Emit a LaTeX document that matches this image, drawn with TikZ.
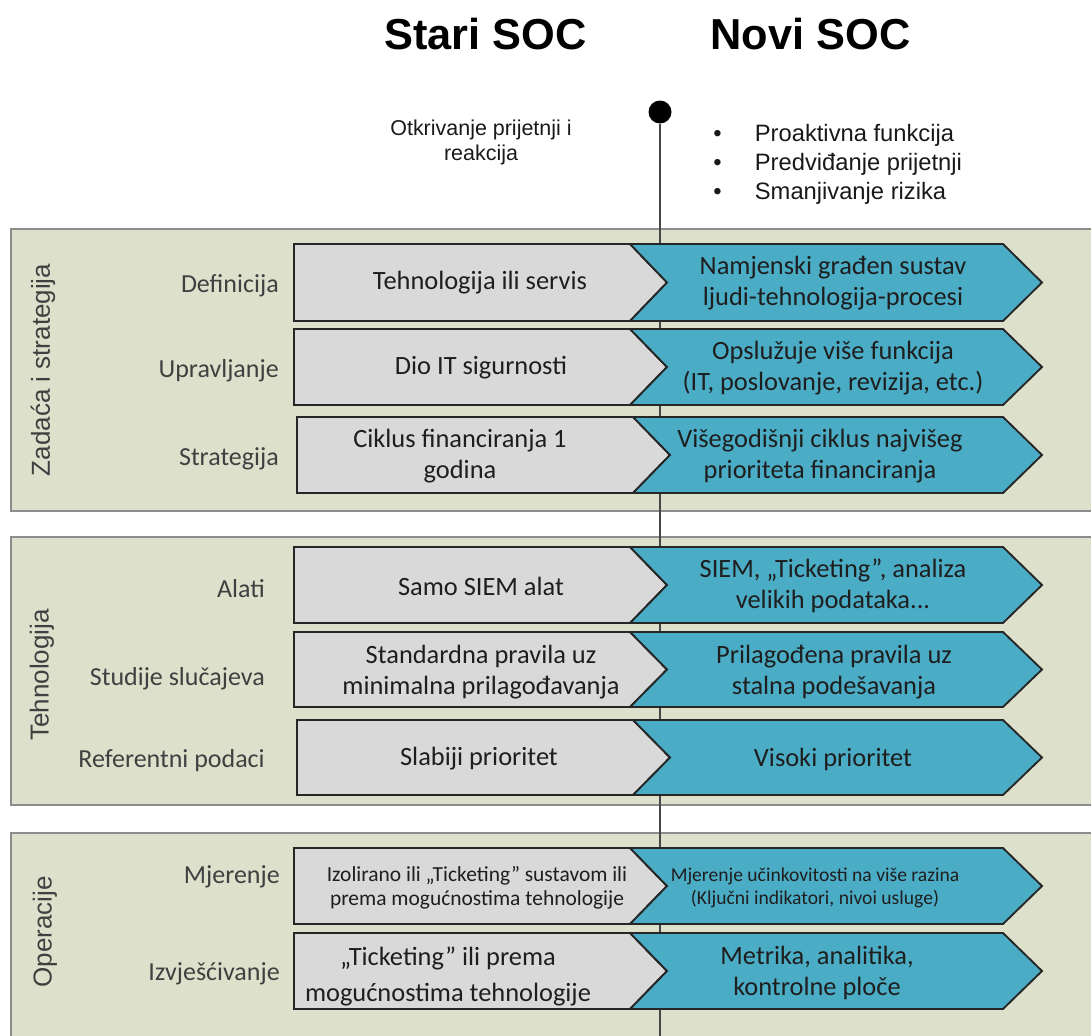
\documentclass[tikz,border=0pt]{standalone}
\usepackage{fontspec}
\setmainfont{Carlito}
\newfontfamily\arialfont{Liberation Sans}
\definecolor{panelfill}{RGB}{221,225,204}
\definecolor{panelline}{RGB}{140,140,140}
\definecolor{oldfill}{RGB}{217,217,217}
\definecolor{newfill}{RGB}{75,172,198}
\definecolor{boxline}{RGB}{38,38,38}
\definecolor{boxtextcol}{RGB}{30,30,30}
\definecolor{labelgray}{RGB}{64,64,64}
\definecolor{axiscol}{RGB}{70,70,70}
\begin{document}
\begin{tikzpicture}[x=0.75pt,y=-0.75pt,
  panel/.style={fill=panelfill,draw=panelline,line width=0.9pt},
  oldbox/.style={fill=oldfill,draw=boxline,line width=1.4pt},
  newbox/.style={fill=newfill,draw=boxline,line width=1.4pt},
  boxtext/.style={inner sep=0pt,align=center,text=boxtextcol,font=\fontsize{19.8}{23.3}\selectfont},
  rowlabel/.style={inner sep=0pt,anchor=east,text=labelgray,font=\fontsize{19.5}{23}\selectfont},
  sidelabel/.style={inner sep=0pt,rotate=90,text=labelgray,font=\arialfont\fontsize{19.5}{23}\selectfont},
  soctitle/.style={inner sep=0pt,anchor=base,font=\arialfont\bfseries\fontsize{32.5}{39}\selectfont}]
\useasboundingbox (0,0) rectangle (1091,1035);
\draw[panel] (11,229) rectangle (1110,511);
\draw[panel] (11,537) rectangle (1110,805);
\draw[panel] (11,833) rectangle (1110,1050);
\node[circle,fill=black,inner sep=0pt,minimum size=17.25pt] (dot) at (660,112) {};
\coordinate (axisend) at (660,1040);
\draw[line width=0.8pt,draw=axiscol] (dot) -- (axisend);
\foreach \t/\b/\s in {244/321/0,329/405/0,417/493/3,547/623/0,632/707/0,720/795/3,848/924/0,933/1009/0}{
  \draw[oldbox] (294+\s,\t) -- (630+\s,\t) -- (667+\s,{(\t+\b)/2}) -- (630+\s,\b) -- (294+\s,\b) -- cycle;
  \draw[newbox] (630+\s,\t) -- (1003,\t) -- (1042,{(\t+\b)/2}) -- (1003,\b) -- (630+\s,\b) -- (667+\s,{(\t+\b)/2}) -- cycle;
}
\node[soctitle] (oldtitle) at (485.5,49) {Stari SOC};
\node[soctitle] (newtitle) at (810.5,49) {Novi SOC};
\node[align=center,inner sep=0pt,text=black!90,font=\arialfont\fontsize{16.1}{18.75}\selectfont] (oldfocus) at (481,142.5) {Otkrivanje prijetnji i\\reakcija};
\node[anchor=west,inner sep=0pt,text=black!90,font=\arialfont\fontsize{17.8}{21.75}\selectfont] (newfocus) at (713,165) {\begin{tabular}{@{}l@{\hspace{25pt}}l@{}}\textbullet & Proaktivna funkcija\\ \textbullet & Predviđanje prijetnji\\ \textbullet & Smanjivanje rizika\end{tabular}};
\node[sidelabel] (side1) at (43,370) {Zadaća i strategija};
\node[sidelabel] (side2) at (42,675) {Tehnologija};
\node[sidelabel] (side3) at (45,932) {Operacije};
\node[rowlabel] (lab1) at (279,286) {Definicija};
\node[rowlabel] (lab2) at (279,371) {Upravljanje};
\node[rowlabel] (lab3) at (279,459) {Strategija};
\node[rowlabel] (lab4) at (265,589) {Alati};
\node[rowlabel] (lab5) at (265,679) {Studije slučajeva};
\node[rowlabel] (lab6) at (265,761) {Referentni podaci};
\node[rowlabel] (lab7) at (280,877) {Mjerenje};
\node[rowlabel] (lab8) at (280,974) {Izvješćivanje};
\node[boxtext] (old1) at (480,283) {Tehnologija ili servis};
\node[boxtext] (new1) at (833,283) {Namjenski građen sustav\\ljudi-tehnologija-procesi};
\node[boxtext] (old2) at (481,368) {Dio IT sigurnosti};
\node[boxtext] (new2) at (833,368) {Opslužuje više funkcija\\(IT, poslovanje, revizija, etc.)};
\node[boxtext] (old3) at (460,456) {Ciklus financiranja 1\\godina};
\node[boxtext] (new3) at (820,456) {Višegodišnji ciklus najvišeg\\prioriteta financiranja};
\node[boxtext] (old4) at (481,586) {Samo SIEM alat};
\node[boxtext] (new4) at (833,586) {SIEM, „Ticketing”, analiza\\velikih podataka...};
\node[boxtext] (old5) at (481,672) {Standardna pravila uz\\minimalna prilagođavanja};
\node[boxtext] (new5) at (834,672) {Prilagođena pravila uz\\stalna podešavanja};
\node[boxtext] (old6) at (479,759) {Slabiji prioritet};
\node[boxtext] (new6) at (833,759) {Visoki prioritet};
\node[boxtext,font=\fontsize{16.1}{18}\selectfont] (old7) at (477,888) {Izolirano ili „Ticketing” sustavom ili\\prema mogućnostima tehnologije};
\node[boxtext,font=\fontsize{14.7}{17.2}\selectfont] (new7) at (815,888) {Mjerenje učinkovitosti na više razina\\(Ključni indikatori, nivoi usluge)};
\node[boxtext,font=\fontsize{19.8}{27}\selectfont] (old8) at (448,976) {„Ticketing” ili prema\\mogućnostima tehnologije};
\node[boxtext] (new8) at (817,973) {Metrika, analitika,\\kontrolne ploče};
\end{tikzpicture}
\end{document}
